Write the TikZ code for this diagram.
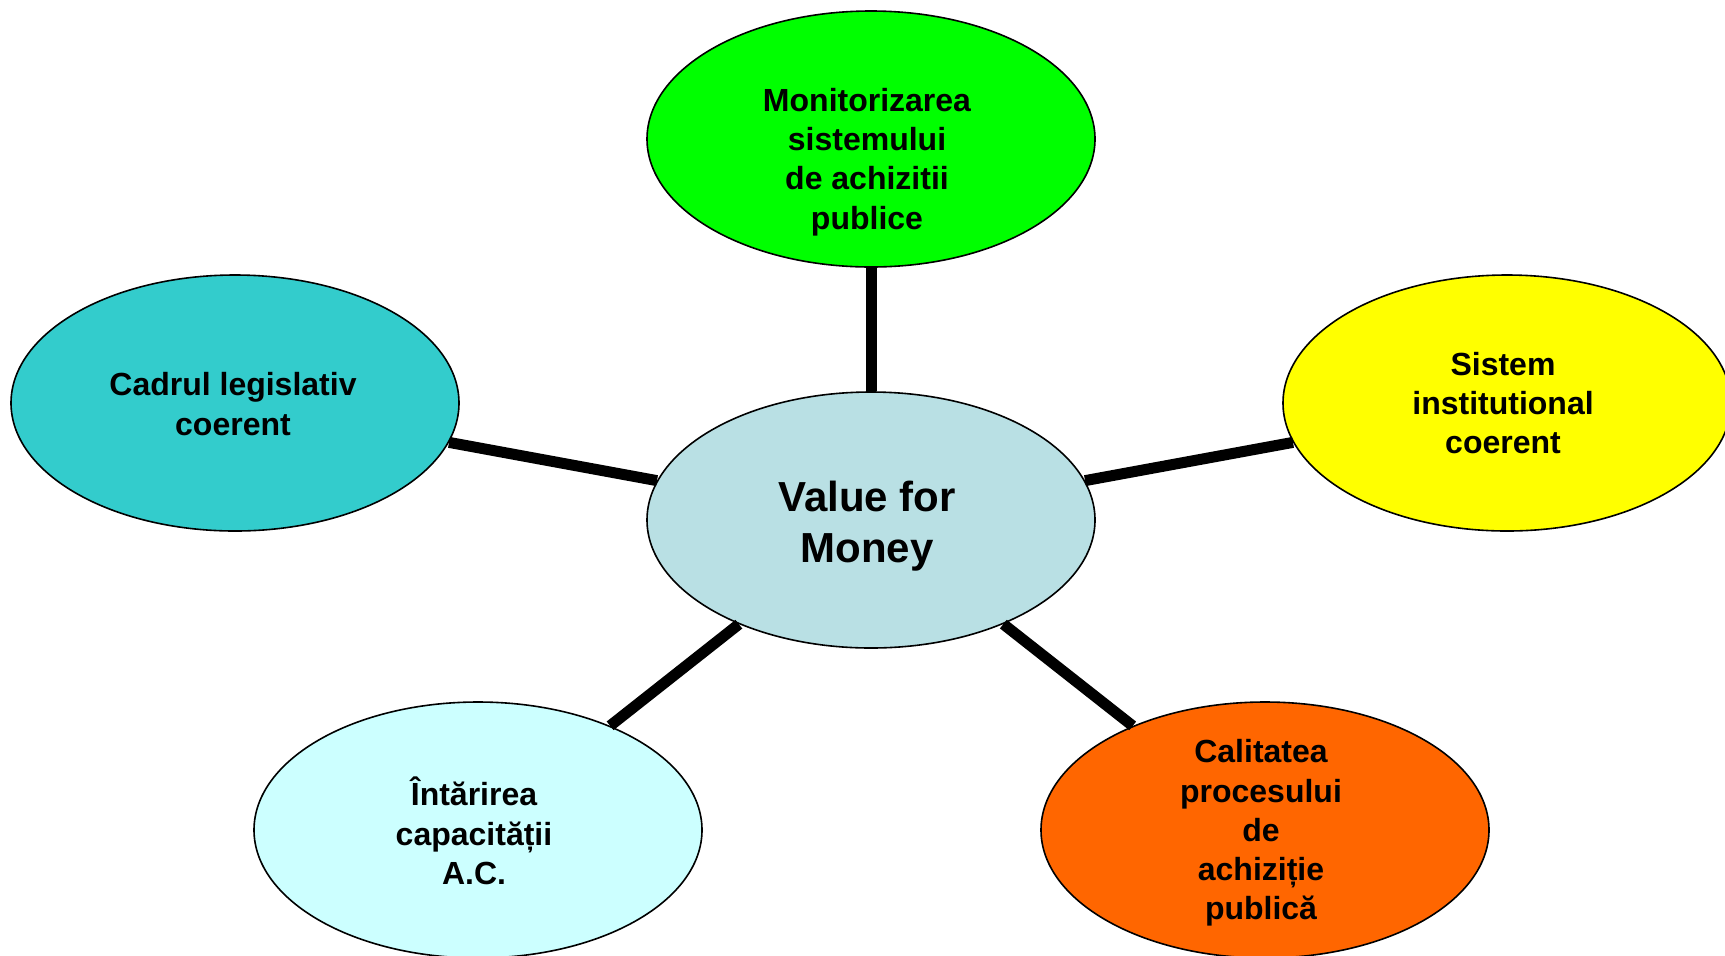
\documentclass[tikz,border=0pt]{standalone}
\usepackage{fontspec}
\setmainfont{Liberation Sans}
\usetikzlibrary{shapes.geometric}
\definecolor{cCenter}{RGB}{185,224,228}
\definecolor{cGreen}{RGB}{0,255,0}
\definecolor{cYellow}{RGB}{255,255,0}
\definecolor{cCyan}{RGB}{51,204,204}
\definecolor{cLight}{RGB}{204,255,255}
\definecolor{cOrange}{RGB}{255,102,0}
\tikzset{
  oval/.style={ellipse, draw=black, line width=0.8pt, minimum width=224pt, minimum height=128pt, inner sep=0pt},
  lbl/.style={align=center, inner sep=0pt, font=\bfseries\fontsize{16pt}{19.6pt}\selectfont},
  biglbl/.style={align=center, inner sep=0pt, font=\bfseries\fontsize{21pt}{25.5pt}\selectfont},
  link/.style={line width=5.5pt, black}
}
\begin{document}
\begin{tikzpicture}[x=0.5pt, y=-0.5pt]
\useasboundingbox (0,0) rectangle (1725,955);
\clip (0,0) rectangle (1725,955);
\node[oval, fill=cCenter] (c) at (871,520) {};
\node[oval, fill=cGreen] (g) at (871,139) {};
\node[oval, fill=cCyan] (l) at (235,403) {};
\node[oval, fill=cYellow] (r) at (1507,403) {};
\node[oval, fill=cLight] (bl) at (478,830) {};
\node[oval, fill=cOrange] (br) at (1265,830) {};
\draw[link] (c) -- (g);
\draw[link] (c) -- (l);
\draw[link] (c) -- (r);
\draw[link] (c) -- (bl);
\draw[link] (c) -- (br);
\node[biglbl] (tc) at (867,526) {Value for\\Money};
\node[lbl] (tg) at (867,162) {Monitorizarea\\sistemului\\de achizitii\\publice};
\node[lbl] (tl) at (233,404) {Cadrul legislativ\\coerent};
\node[lbl] (tr) at (1503,403) {Sistem\\institutional\\coerent};
\node[lbl] (tbl) at (474,831) {Întărirea\\capacității\\A.C.};
\node[lbl] (tbr) at (1261,833) {Calitatea\\procesului\\de\\achiziție\\publică};
\end{tikzpicture}
\end{document}
